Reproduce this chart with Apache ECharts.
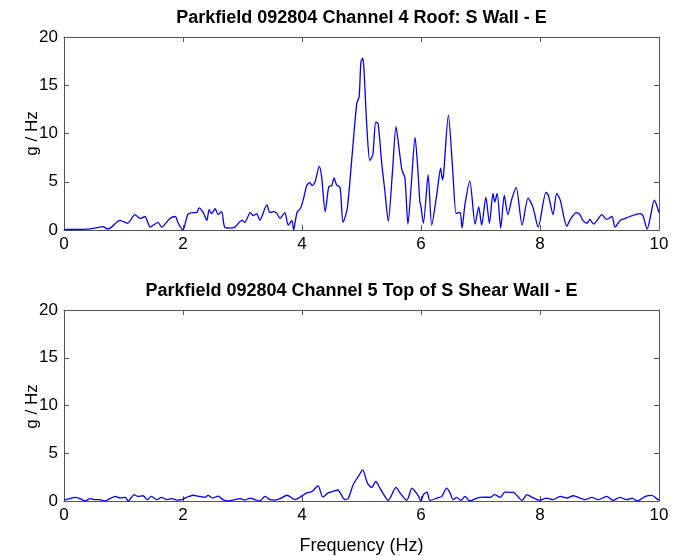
<!DOCTYPE html>
<html>
<head>
<meta charset="utf-8">
<title>Parkfield 092804 spectra</title>
<script src="https://cdn.jsdelivr.net/npm/echarts@6/dist/echarts.min.js"></script>
<style>
  html, body { margin: 0; padding: 0; background: #fff; }
  #chart { width: 673px; height: 556px; }
</style>
</head>
<body>
<div id="chart"></div>
<script>
// Channel 4 (Roof: S Wall - E) spectrum, frequency in Hz and amplitude in g/Hz
const ch4Freq = [0, 0.2, 0.4, 0.55, 0.65, 0.74, 0.8, 0.94, 1.07, 1.19, 1.28, 1.36, 1.45, 1.58, 1.64, 1.78, 1.87, 1.92, 2.0,
  2.08, 2.17, 2.23, 2.27, 2.34, 2.4, 2.44, 2.48, 2.54, 2.59, 2.65, 2.7, 2.79, 2.87, 2.99, 3.04, 3.13, 3.18, 3.24, 3.29,
  3.41, 3.46, 3.52, 3.58, 3.63, 3.71, 3.77, 3.83, 3.86, 3.89, 3.92, 3.97, 4.02, 4.08, 4.13, 4.17, 4.22, 4.29, 4.33, 4.39,
  4.45, 4.5, 4.54, 4.58, 4.64, 4.69, 4.76, 4.84, 4.92, 4.96, 4.99, 5.02, 5.04, 5.09, 5.14, 5.19, 5.24, 5.28, 5.34, 5.39,
  5.45, 5.52, 5.58, 5.64, 5.68, 5.73, 5.78, 5.84, 5.9, 5.95, 5.98, 6.0, 6.04, 6.12, 6.18, 6.27, 6.33, 6.36, 6.38, 6.46,
  6.53, 6.59, 6.63, 6.66, 6.69, 6.74, 6.82, 6.91, 6.97, 7.02, 7.09, 7.15, 7.21, 7.24, 7.28, 7.34, 7.4, 7.46, 7.53, 7.6,
  7.7, 7.8, 7.88, 7.97, 8.1, 8.14, 8.22, 8.28, 8.34, 8.45, 8.52, 8.61, 8.67, 8.72, 8.79, 8.84, 8.9, 8.96, 9.04, 9.12,
  9.21, 9.26, 9.35, 9.43, 9.51, 9.6, 9.68, 9.73, 9.8, 9.86, 9.92, 9.96, 10.0];
const ch4Amp = [0.05, 0.05, 0.1, 0.25, 0.35, 0.1, 0.3, 1.0, 0.7, 1.6, 1.2, 1.4, 0.3, 0.8, 0.3, 1.2, 1.4, 0.7, 0.0,
  1.6, 1.8, 1.8, 2.3, 1.8, 1.0, 2.1, 1.7, 2.2, 1.6, 1.9, 0.3, 0.2, 0.3, 1.0, 0.8, 1.8, 1.5, 1.7, 1.0,
  2.6, 1.8, 1.9, 1.7, 1.2, 1.8, 0.5, 1.0, 0.0, 1.0, 1.9, 2.2, 3.1, 4.6, 4.9, 4.6, 5.0, 6.6, 5.5, 1.9,
  4.5, 4.6, 5.4, 4.7, 4.4, 0.8, 2.2, 7.6, 13.1, 13.8, 17.4, 17.8, 16.8, 10.7, 7.2, 7.8, 11.2, 11.0, 6.9, 4.2,
  0.9, 6.0, 10.7, 8.0, 6.2, 5.4, 0.6, 5.0, 9.6, 6.0, 3.0, 2.4, 0.7, 5.7, 0.5, 3.9, 6.4, 5.2, 5.8, 11.9,
  6.5, 1.7, 1.8, 1.8, 0.2, 2.7, 5.1, 0.6, 2.4, 0.5, 3.4, 0.7, 3.8, 2.9, 3.8, 0.2, 3.6, 1.6, 3.3, 4.4,
  0.5, 3.3, 2.4, 0.3, 3.9, 3.6, 1.6, 3.8, 3.1, 0.4, 1.2, 1.8, 1.6, 1.0, 0.7, 1.1, 0.6, 1.0, 1.6, 1.1,
  1.4, 0.3, 1.0, 1.2, 1.4, 1.6, 1.7, 1.5, 0.1, 1.5, 3.1, 2.6, 1.8];

// Channel 5 (Top of S Shear Wall - E) spectrum
const ch5Freq = [0.0, 0.1, 0.18, 0.27, 0.35, 0.44, 0.52, 0.6, 0.69, 0.77, 0.86, 0.94, 1.03, 1.08, 1.18, 1.24, 1.33, 1.4,
  1.47, 1.56, 1.64, 1.73, 1.81, 1.9, 1.98, 2.06, 2.17, 2.28, 2.37, 2.42, 2.5, 2.59, 2.67, 2.76, 2.84, 2.96, 3.04, 3.13,
  3.21, 3.29, 3.38, 3.46, 3.55, 3.63, 3.75, 3.83, 3.88, 3.97, 4.08, 4.17, 4.27, 4.35, 4.44, 4.52, 4.6, 4.72, 4.78, 4.86,
  4.96, 5.02, 5.1, 5.17, 5.24, 5.31, 5.45, 5.58, 5.65, 5.76, 5.85, 5.9, 5.95, 6.0, 6.04, 6.1, 6.15, 6.27, 6.35, 6.43,
  6.49, 6.54, 6.6, 6.67, 6.74, 6.82, 6.94, 7.04, 7.16, 7.24, 7.33, 7.41, 7.55, 7.7, 7.78, 7.87, 7.99, 8.11, 8.22, 8.34,
  8.45, 8.56, 8.67, 8.76, 8.87, 8.98, 9.12, 9.23, 9.34, 9.46, 9.55, 9.63, 9.77, 9.88, 9.97, 10.0];
const ch5Amp = [0.1, 0.24, 0.38, 0.24, 0.0, 0.24, 0.14, 0.14, 0.0, 0.24, 0.48, 0.31, 0.38, 0.0, 0.66, 0.48, 0.55, 0.14,
  0.48, 0.14, 0.38, 0.14, 0.24, 0.1, 0.14, 0.38, 0.6, 0.48, 0.38, 0.59, 0.31, 0.52, 0.14, 0.0, 0.1, 0.24, 0.1, 0.31,
  0.14, 0.0, 0.48, 0.14, 0.1, 0.24, 0.6, 0.31, 0.14, 0.41, 0.85, 1.0, 1.6, 0.4, 0.85, 1.0, 1.15, 0.15, 0.31, 1.7,
  2.7, 3.25, 1.87, 1.42, 2.04, 1.35, 0.07, 1.42, 0.83, 0.07, 1.35, 1.0, 0.59, 0.0, 0.66, 0.93, 0.07, 0.31, 0.48, 1.35,
  0.83, 0.14, 0.38, 0.07, 0.48, 0.0, 0.31, 0.41, 0.38, 0.66, 0.38, 0.93, 0.9, 0.07, 0.66, 0.38, 0.07, 0.31, 0.14, 0.48,
  0.31, 0.55, 0.31, 0.14, 0.38, 0.14, 0.48, 0.07, 0.38, 0.14, 0.31, 0.0, 0.48, 0.59, 0.2, 0.1];

const titles = ['Parkfield 092804 Channel 4 Roof: S Wall - E', 'Parkfield 092804 Channel 5 Top of S Shear Wall - E'];
const yName = 'g / Hz';
const xName = 'Frequency (Hz)';

const FONT = '"Liberation Sans", Arial, Helvetica, sans-serif';
const AXIS_COLOR = '#555';
const PLOT_LEFT = 64, PLOT_WIDTH = 595, PLOT_HEIGHT = 193;
const PLOT_TOPS = [37, 310];

function pairs(xs, ys) { return xs.map((x, i) => [x, ys[i]]); }

function xAxes(gridIndex, withName) {
  const common = {
    type: 'value', gridIndex: gridIndex, min: 0, max: 10, interval: 2,
    axisLine: { show: true, onZero: false, lineStyle: { color: AXIS_COLOR, width: 1 } },
    axisTick: { show: true, inside: true, length: 5, lineStyle: { color: AXIS_COLOR } },
    splitLine: { show: false }
  };
  return [
    Object.assign({}, common, {
      position: 'bottom',
      axisLabel: { show: true, color: '#000', fontFamily: FONT, fontSize: 17, margin: 6 },
      name: withName ? xName : '', nameLocation: 'middle', nameGap: 36,
      nameTextStyle: { color: '#000', fontFamily: FONT, fontSize: 18 }
    }),
    Object.assign({}, common, { position: 'top', axisLabel: { show: false } })
  ];
}

function yAxes(gridIndex) {
  const common = {
    type: 'value', gridIndex: gridIndex, min: 0, max: 20, interval: 5,
    axisLine: { show: true, onZero: false, lineStyle: { color: AXIS_COLOR, width: 1 } },
    axisTick: { show: true, inside: true, length: 5, lineStyle: { color: AXIS_COLOR } },
    splitLine: { show: false }
  };
  return [
    Object.assign({}, common, {
      position: 'left',
      axisLabel: { show: true, color: '#000', fontFamily: FONT, fontSize: 17, margin: 6 }
    }),
    Object.assign({}, common, { position: 'right', axisLabel: { show: false } })
  ];
}

// Titles centred over each plot box, and the rotated y-axis names beside them
const textGraphics = [];
titles.forEach((t, i) => {
  textGraphics.push({
    type: 'text',
    x: PLOT_LEFT + PLOT_WIDTH / 2,
    y: PLOT_TOPS[i] - 19,
    style: { text: t, fill: '#000', font: 'bold 18px ' + FONT, textAlign: 'center', textVerticalAlign: 'middle' }
  });
  textGraphics.push({
    type: 'text',
    x: 32,
    y: PLOT_TOPS[i] + PLOT_HEIGHT / 2,
    rotation: Math.PI / 2,
    style: { text: yName, fill: '#000', font: '17px ' + FONT, textAlign: 'center', textVerticalAlign: 'middle' }
  });
});

const chart = echarts.init(document.getElementById('chart'), null, { renderer: 'canvas' });
chart.setOption({
  animation: false,
  backgroundColor: '#fff',
  graphic: textGraphics,
  grid: PLOT_TOPS.map(top => ({ left: PLOT_LEFT, top: top, width: PLOT_WIDTH, height: PLOT_HEIGHT })),
  xAxis: xAxes(0, false).concat(xAxes(1, true)),
  yAxis: yAxes(0).concat(yAxes(1)),
  series: [
    { type: 'line', xAxisIndex: 0, yAxisIndex: 0, data: pairs(ch4Freq, ch4Amp),
      showSymbol: false, smooth: 0.25, lineStyle: { color: '#0000ff', width: 1.3 } },
    { type: 'line', xAxisIndex: 2, yAxisIndex: 2, data: pairs(ch5Freq, ch5Amp),
      showSymbol: false, smooth: 0.25, lineStyle: { color: '#0000ff', width: 1.3 } }
  ]
});
</script>
</body>
</html>
